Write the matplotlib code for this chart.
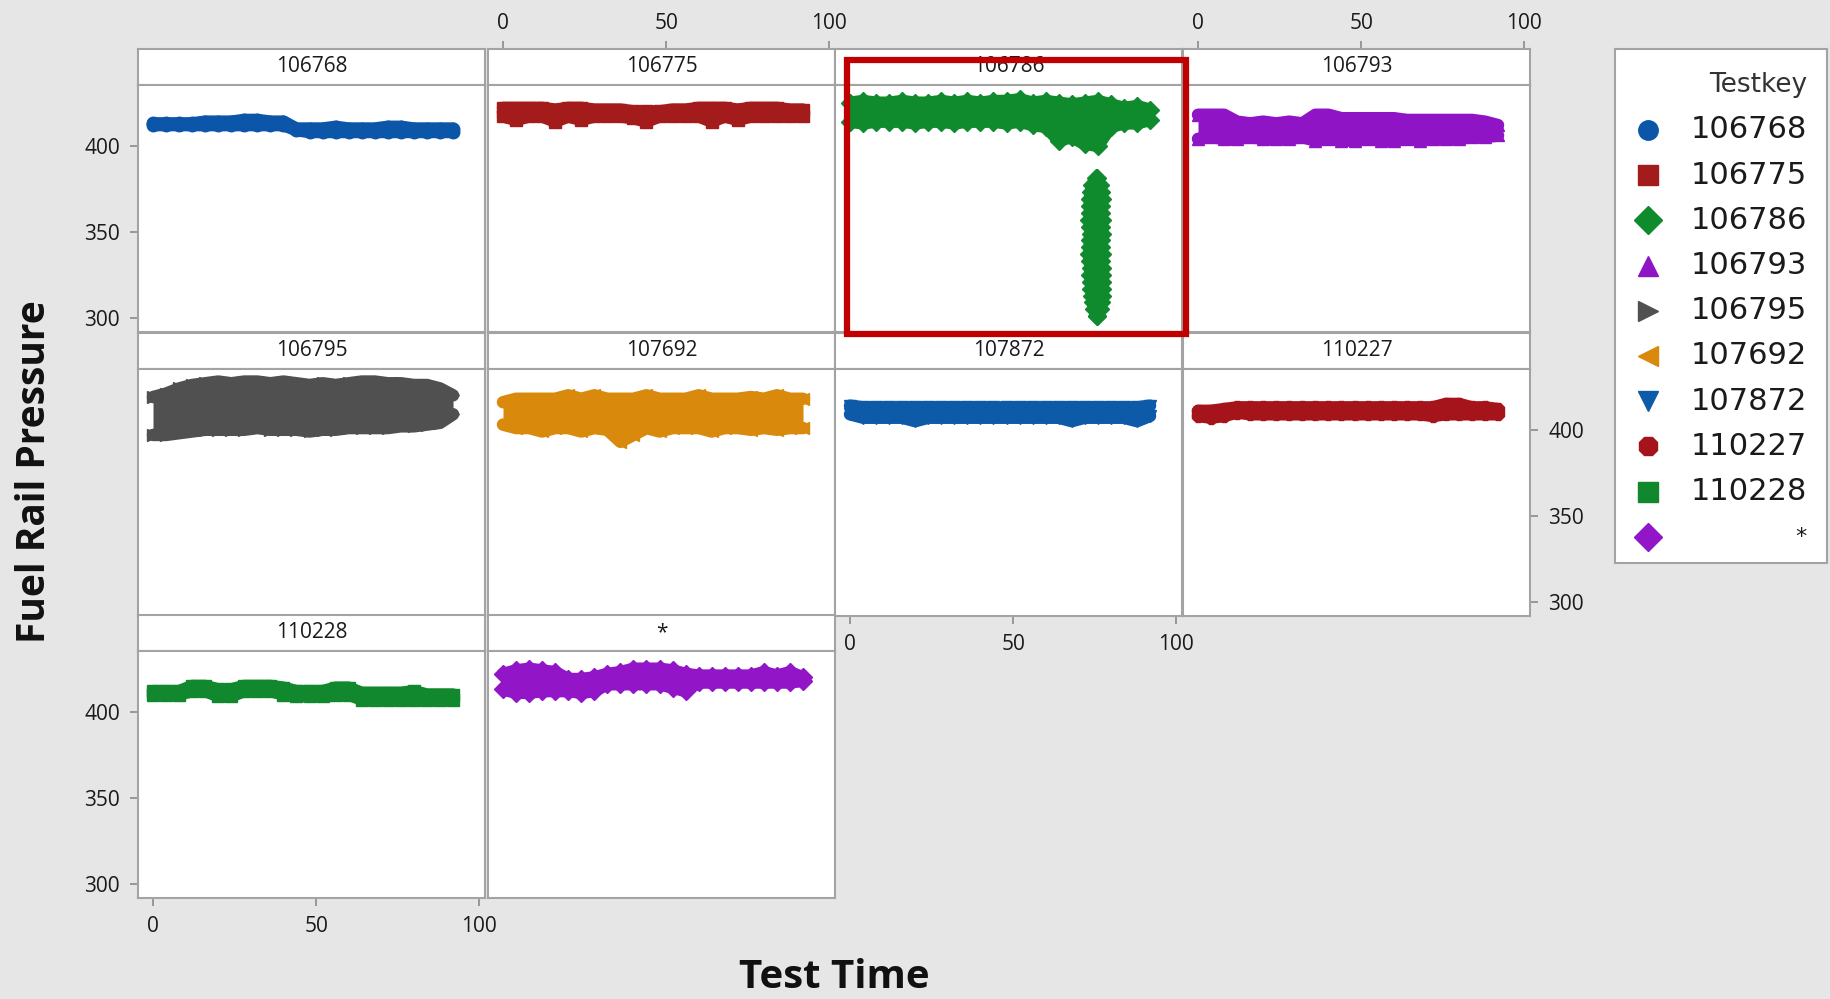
import matplotlib.pyplot as plt
from matplotlib.patches import Rectangle

plt.rcParams['font.family'] = ['Open Sans', 'DejaVu Sans']

W, H = 1831, 999

# test time samples shared by every testkey
time = [0, 4, 8, 12, 16, 20, 24, 28, 32, 36, 40, 44, 48, 52, 56, 60, 64, 68, 72, 76, 80, 84, 88, 92]

testkeys = ["106768", "106775", "106786", "106793", "106795",
            "107692", "107872", "110227", "110228", "*"]
colors = ["#0b56a8", "#a31b1b", "#0f8a2d", "#8e14c6", "#505050",
          "#d9890c", "#0d5aa8", "#a5141a", "#11882e", "#9216c8"]
markers = ["o", "s", "D", "^", ">", "<", "v", "8", "s", "D"]

# upper / lower fuel rail pressure readings at each time sample
hi_106768 = [413, 413, 413, 413, 414, 414, 414, 415, 415, 414, 414, 410, 410, 410, 411, 410, 410, 410, 411, 411, 410, 410, 410, 410]
lo_106768 = [412, 412, 412, 412, 412, 412, 412, 412, 412, 412, 412, 409, 408, 408, 408, 408, 408, 408, 408, 408, 408, 408, 408, 408]
hi_106775 = [422, 422, 422, 422, 421, 422, 422, 421, 421, 421, 420, 420, 420, 421, 421, 422, 422, 422, 421, 422, 422, 422, 421, 421]
lo_106775 = [417, 415, 417, 417, 414, 417, 415, 417, 417, 417, 416, 414, 417, 417, 417, 417, 414, 417, 415, 417, 417, 417, 417, 417]
hi_106786 = [425, 426, 425, 425, 426, 425, 425, 426, 425, 426, 425, 426, 426, 427, 425, 426, 425, 424, 425, 426, 424, 422, 423, 421]
lo_106786 = [414, 413, 414, 414, 414, 413, 414, 414, 413, 414, 414, 414, 413, 414, 412, 411, 403, 405, 401, 400, 411, 413, 413, 415]
hi_106793 = [418, 418, 418, 414, 413, 414, 413, 414, 413, 418, 418, 416, 416, 416, 416, 416, 415, 415, 415, 415, 415, 415, 414, 412]
lo_106793 = [404, 405, 404, 404, 405, 404, 404, 404, 405, 403, 404, 403, 403, 404, 403, 403, 404, 403, 404, 404, 404, 405, 405, 406]
hi_106795 = [419, 421, 424, 426, 427, 428, 427, 428, 428, 427, 428, 427, 426, 427, 426, 427, 428, 428, 427, 427, 426, 426, 424, 420]
lo_106795 = [397, 397, 398, 399, 400, 400, 400, 400, 401, 400, 400, 400, 399, 400, 400, 401, 401, 401, 401, 402, 402, 403, 404, 409]
hi_107692 = [416, 418, 418, 418, 418, 420, 418, 420, 418, 418, 418, 420, 418, 418, 418, 420, 418, 418, 418, 419, 418, 420, 418, 418]
lo_107692 = [403, 401, 401, 399, 401, 401, 399, 401, 400, 393, 397, 401, 399, 401, 401, 401, 399, 401, 401, 400, 401, 400, 401, 401]
hi_107872 = [414, 413, 413, 413, 413, 413, 413, 413, 413, 413, 413, 413, 413, 413, 413, 413, 413, 413, 413, 413, 413, 413, 413, 414]
lo_107872 = [409, 407, 407, 407, 407, 405, 407, 407, 407, 407, 407, 407, 407, 407, 407, 407, 407, 405, 407, 407, 407, 407, 405, 408]
hi_110227 = [411, 411, 412, 413, 413, 413, 413, 413, 413, 413, 413, 413, 413, 413, 413, 413, 413, 413, 413, 415, 415, 413, 413, 412]
lo_110227 = [408, 407, 408, 410, 409, 409, 409, 409, 409, 409, 409, 409, 409, 409, 409, 409, 409, 409, 408, 409, 409, 409, 409, 409]
hi_110228 = [412, 412, 412, 415, 415, 413, 413, 415, 415, 415, 414, 412, 412, 412, 414, 414, 411, 411, 411, 411, 412, 410, 410, 410]
lo_110228 = [410, 410, 410, 412, 412, 409, 409, 412, 412, 412, 410, 409, 409, 409, 410, 410, 407, 407, 407, 407, 407, 407, 407, 407]
hi_star = [422, 424, 425, 424, 423, 419, 419, 420, 422, 423, 425, 425, 425, 424, 422, 421, 421, 421, 421, 421, 423, 421, 423, 420]
lo_star = [413, 411, 411, 412, 412, 412, 411, 412, 416, 416, 416, 416, 416, 414, 412, 417, 417, 417, 417, 417, 417, 417, 417, 418]

# pressure drop of testkey 106786 around t = 75
drop_p = [381, 377, 373, 369, 365, 361, 357, 353, 349, 345, 341, 337, 333, 329, 325, 321, 317, 313, 309, 305, 301]
drop_t_left = [75.4, 74.2, 73.8, 73.6, 73.5, 73.7, 73.4, 73.6, 73.8, 73.5, 73.6, 73.4, 73.5, 73.8, 73.6, 73.9, 74.0, 74.2, 74.4, 74.8, 75.6]
drop_t_right = [75.8, 76.8, 77.0, 77.2, 77.1, 76.9, 77.2, 77.0, 77.3, 77.1, 77.0, 77.2, 77.1, 77.3, 77.2, 77.4, 77.3, 77.2, 77.0, 76.6, 75.8]

series_hi = [hi_106768, hi_106775, hi_106786, hi_106793, hi_106795,
             hi_107692, hi_107872, hi_110227, hi_110228, hi_star]
series_lo = [lo_106768, lo_106775, lo_106786, lo_106793, lo_106795,
             lo_107692, lo_107872, lo_110227, lo_110228, lo_star]

xlim = (-4.6, 101.8)
ylim = (291.8, 435.3)
grid_col = "#a3a3a3"
tick_kw = dict(length=6, width=1.2, color="#8a8a8a", labelsize=15,
               labelcolor="#1a1a1a")

col_x = [138, 488, 835, 1183]
row_y = [49, 333, 615]
col_w, strip_h, panel_h = 347, 36, 247


def px_box(x, y, w, h):
    return [x / W, 1 - (y + h) / H, w / W, h / H]


def draw_band(ax, xs, ys, col, mk):
    # thick round stroke through the readings, symbols on top for the ragged edge
    ax.plot(xs, ys, color=col, lw=9, solid_capstyle="round",
            solid_joinstyle="round", zorder=2)
    ax.plot(xs, ys, ls="none", marker=mk, ms=9, color=col, mec=col, zorder=3)


fig = plt.figure(figsize=(W / 100, H / 100), dpi=100, facecolor="#e6e6e6")

for i, key in enumerate(testkeys):
    r, c = divmod(i, 4)
    x0, y0 = col_x[c], row_y[r]
    strip = fig.add_axes(px_box(x0, y0, col_w, strip_h))
    ax = fig.add_axes(px_box(x0, y0 + strip_h, col_w, panel_h))
    for a in (strip, ax):
        a.set_xlim(xlim)
        a.set_facecolor("white")
        a.tick_params(left=False, bottom=False, labelleft=False, labelbottom=False)
        for s in a.spines.values():
            s.set_color(grid_col)
            s.set_linewidth(1.5)
    ax.set_ylim(ylim)
    strip.set_ylim(0, 1)
    strip.text(0.5, 0.5, key, transform=strip.transAxes, ha="center",
               va="center", fontsize=15, color="#1a1a1a")

    col, mk = colors[i], markers[i]
    ax.fill_between(time, series_lo[i], series_hi[i], color=col, lw=0, zorder=2)
    draw_band(ax, time, series_hi[i], col, mk)
    draw_band(ax, time, series_lo[i], col, mk)
    if key == "106786":
        ax.fill_betweenx(drop_p, drop_t_left, drop_t_right, color=col, lw=0, zorder=2)
        draw_band(ax, drop_t_left, drop_p, col, mk)
        draw_band(ax, drop_t_right, drop_p, col, mk)

    ax.set_xticks([0, 50, 100])
    ax.set_yticks([300, 350, 400])
    strip.set_xticks([0, 50, 100])
    strip.set_yticks([])

    # alternate axis scales the way a panel plot does
    if c == 0 and r in (0, 2):
        ax.tick_params(axis="y", left=True, labelleft=True, pad=7, **tick_kw)
    if c == 3 and r == 1:
        ax.tick_params(axis="y", right=True, labelright=True, pad=7, **tick_kw)
    if (c == 0 and r == 2) or (c == 2 and r == 1):
        ax.tick_params(axis="x", bottom=True, labelbottom=True, pad=7, **tick_kw)
    if c in (1, 3) and r == 0:
        strip.tick_params(axis="x", top=True, labeltop=True, pad=5, **tick_kw)

# highlight around the 106786 panel
fig.add_artist(Rectangle((847 / W, 1 - 334 / H), (1186 - 847) / W, (334 - 60) / H,
                         transform=fig.transFigure, fill=False,
                         ec="#c00000", lw=4.5, zorder=20))

# legend box
leg = fig.add_axes(px_box(1615, 49, 212, 514))
leg.set_xlim(0, 212)
leg.set_ylim(514, 0)
leg.set_xticks([])
leg.set_yticks([])
for s in leg.spines.values():
    s.set_color(grid_col)
    s.set_linewidth(1.5)
leg.text(192, 36, "Testkey", ha="right", va="center", fontsize=19,
         color="#333333", family="DejaVu Sans")
for j, key in enumerate(testkeys):
    y = 81 + 45.2 * j
    leg.plot(33, y, ls="none", marker=markers[j], ms=14, color=colors[j],
             mec=colors[j])
    leg.text(192, y, key, ha="right", va="center", fontsize=22 if key != "*" else 16,
             color="#1a1a1a", family="DejaVu Sans")

fig.text(35 / W, 1 - 472 / H, "Fuel Rail Pressure", rotation=90, ha="center",
         va="center", fontsize=28, fontweight="bold", color="#111111")
fig.text(834 / W, 1 - 977 / H, "Test Time", ha="center", va="center",
         fontsize=29, fontweight="bold", color="#111111")

fig.savefig("out.png", dpi=100, facecolor=fig.get_facecolor())
